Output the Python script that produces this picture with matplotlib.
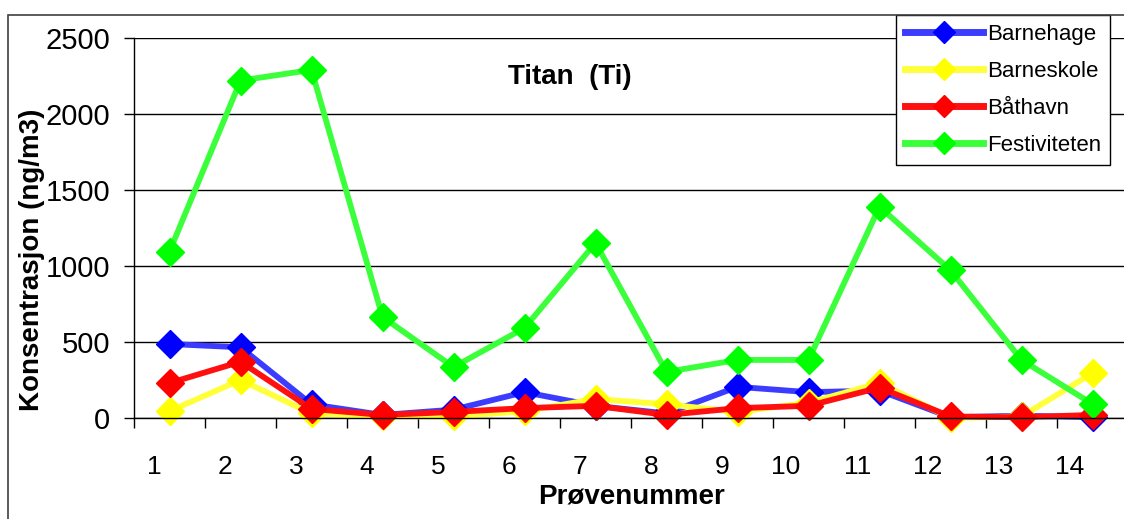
import matplotlib
matplotlib.use('Agg')
import matplotlib.pyplot as plt
import matplotlib.transforms as mtransforms
from matplotlib.patches import Rectangle
import numpy

# sample numbers 1..14
samples = [str(i) for i in range(1, 15)]

barnehage    = [487, 465, 90, 20, 55, 170, 80, 30, 205, 170, 180, 5, 15, 5]
barneskole   = [45, 250, 30, 10, 10, 45, 125, 90, 40, 100, 230, 0, 10, 295]
baathavn     = [230, 370, 60, 20, 40, 65, 80, 20, 65, 80, 200, 10, 5, 20]
festiviteten = [1095, 2220, 2290, 665, 335, 592, 1152, 303, 382, 382, 1390, 972, 382, 92]

series = [('Barnehage', barnehage, '#0000ff', '#3c3cff'),
          ('Barneskole', barneskole, '#ffff00', '#ffff3c'),
          ('Båthavn', baathavn, '#ff0000', '#ff1010'),
          ('Festiviteten', festiviteten, '#00ff00', '#3cff3c')]

plt.rcParams['font.family'] = ['Liberation Sans', 'DejaVu Sans']

W, H = 1124, 519
fig = plt.figure(figsize=(W/100.0, H/100.0), dpi=100)
ax = fig.add_axes([134.0/W, 1-418.0/H, 994.0/W, 380.0/H])

x = numpy.arange(len(samples)) + 0.5
for name, vals, mc, lc in series:
   ax.plot(x, vals, color=lc, lw=4.2, marker='D', markersize=14,
           markerfacecolor=mc, markeredgecolor=mc, label=name, clip_on=False)

ax.set_xlim(0, len(samples))
ax.set_ylim(0, 2500)
ax.set_yticks(numpy.arange(0, 2501, 500))
ax.yaxis.grid(True, color='black', lw=1.0)
ax.set_axisbelow(True)
for s in ['top', 'right']:
   ax.spines[s].set_visible(False)
ax.spines['left'].set_linewidth(1.0)
ax.spines['bottom'].set_linewidth(1.0)

# category ticks between the samples, labels at the centres
ax.set_xticks(x)
ax.set_xticklabels(samples)
ax.set_xticks(numpy.arange(len(samples)+1), minor=True)
ax.tick_params(axis='x', which='major', length=0, pad=27, labelsize=19)
ax.tick_params(axis='x', which='minor', length=7, width=1, direction='out')
ax.tick_params(axis='y', which='major', length=7, width=1, direction='out', pad=10, labelsize=21)
shift = mtransforms.ScaledTranslation(-0.08, 0, fig.dpi_scale_trans)
for lab in ax.get_xticklabels():
   lab.set_horizontalalignment('right')
   lab.set_transform(lab.get_transform() + shift)

ax.set_xlabel('Prøvenummer', fontsize=20, fontweight='bold', labelpad=3)
fig.text(32.0/W, 1-260.0/H, 'Konsentrasjon (ng/m3)', rotation=90, fontsize=20,
         fontweight='bold', ha='center', va='center')
fig.text(570.0/W, 1-77.0/H, 'Titan  (Ti)', fontsize=20, fontweight='bold',
         ha='center', va='center')

leg = ax.legend(loc='upper left', bbox_to_anchor=(896.0/W, 1-15.0/H),
                bbox_transform=fig.transFigure, borderaxespad=0, fontsize=16,
                handlelength=3.5, handletextpad=0.2, labelspacing=0.72,
                borderpad=0.4, fancybox=False, framealpha=1, edgecolor='black')
leg.get_frame().set_linewidth(1.0)
for h in leg.legend_handles:
   h.set_markersize(11)
   h.set_linewidth(5)

# outer chart frame
fig.patches.append(Rectangle((8.0/W, -0.1), 1.2, 1.1-15.0/H, transform=fig.transFigure,
                             fill=False, edgecolor='#404040', lw=1.2))

fig.savefig('out.png', dpi=100)
